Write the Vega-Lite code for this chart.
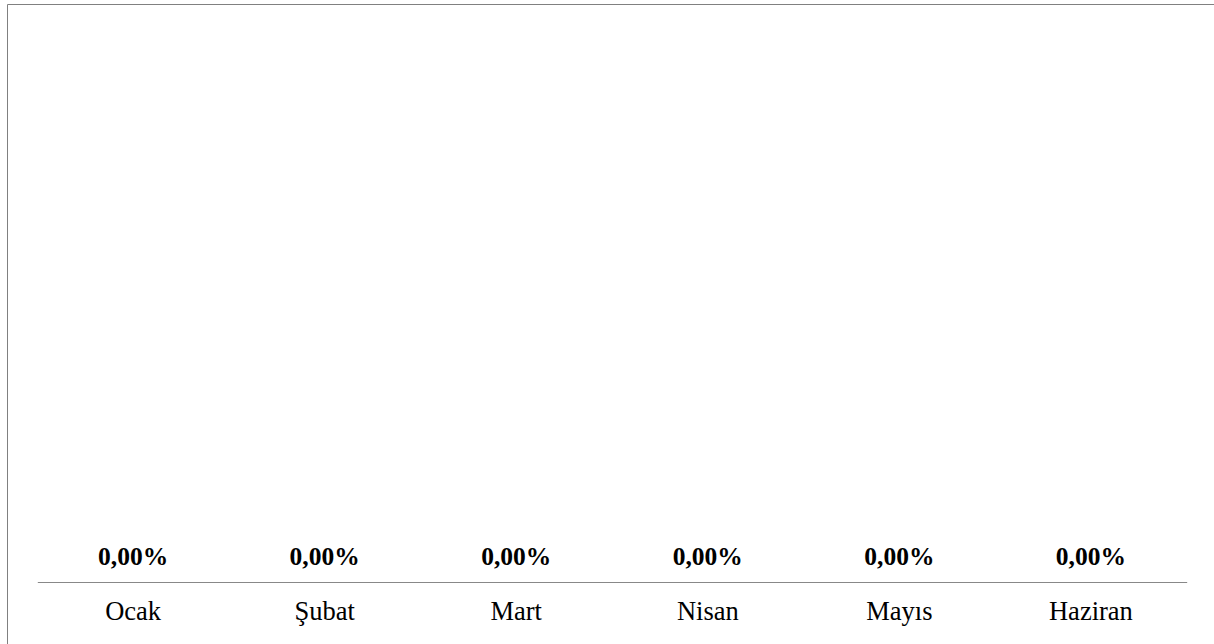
{
  "$schema": "https://vega.github.io/schema/vega-lite/v6.json",
  "autosize": {"type": "none"},
  "padding": {"left": 7, "top": 4, "right": 0, "bottom": 0},
  "width": 1400,
  "height": 800,
  "background": "#ffffff",
  "data": {
    "values": [
      {"ay": "Ocak", "oran": 0},
      {"ay": "Şubat", "oran": 0},
      {"ay": "Mart", "oran": 0},
      {"ay": "Nisan", "oran": 0},
      {"ay": "Mayıs", "oran": 0},
      {"ay": "Haziran", "oran": 0}
    ]
  },
  "config": {
    "view": {"stroke": "#808080", "strokeWidth": 1},
    "locale": {
      "number": {"decimal": ",", "thousands": ".", "grouping": [3], "currency": ["", " ₺"]}
    }
  },
  "encoding": {
    "x": {
      "field": "ay", "type": "nominal", "sort": null,
      "scale": {"range": [30.3, 1179.7], "paddingInner": 0, "paddingOuter": 0},
      "axis": {"orient": "bottom", "offset": -222, "ticks": false, "tickSize": 0, "grid": false,
               "title": null, "labelAngle": 0, "labelPadding": 37, "labelBaseline": "alphabetic",
               "labelFont": "Liberation Serif", "labelFontSize": 26.5, "labelColor": "#000000",
               "domain": true, "domainColor": "#888888", "domainWidth": 1}
    },
    "y": {
      "field": "oran", "type": "quantitative", "axis": null,
      "scale": {"domain": [0, 1], "range": [578, 0], "nice": false}
    }
  },
  "layer": [
    {"mark": {"type": "bar", "color": "#4472c4"}},
    {
      "mark": {"type": "text", "dy": -17, "baseline": "alphabetic", "align": "center",
               "font": "Liberation Serif", "fontWeight": "bold", "fontSize": 25.5, "color": "#000000"},
      "encoding": {
        "text": {"field": "oran", "type": "quantitative", "format": ".2%"}
      }
    }
  ]
}
